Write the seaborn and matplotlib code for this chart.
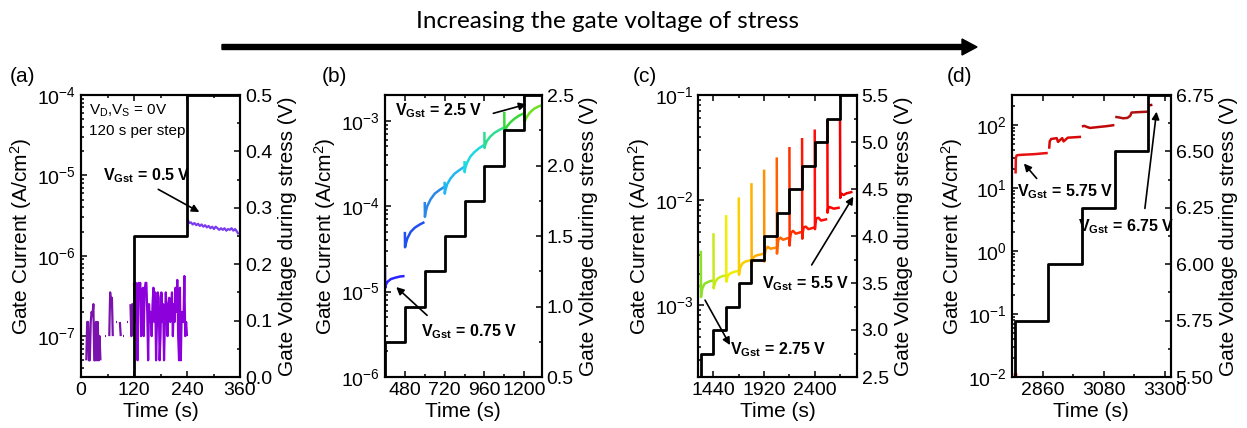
import numpy as np
import pandas as pd
import matplotlib
matplotlib.use("Agg")
import matplotlib.pyplot as plt
import seaborn as sns
from matplotlib.ticker import MultipleLocator, LogLocator, FormatStrFormatter, NullFormatter

sns.set_theme(style="ticks")
plt.rcParams["font.family"] = ["Liberation Sans", "DejaVu Sans"]
plt.rcParams["mathtext.fontset"] = "custom"
plt.rcParams["mathtext.rm"] = "Liberation Sans"
plt.rcParams["mathtext.it"] = "Liberation Sans:italic"
plt.rcParams["mathtext.bf"] = "Liberation Sans:bold"
plt.rcParams["mathtext.default"] = "regular"
for k in ["text.color", "axes.labelcolor", "xtick.color", "ytick.color", "axes.edgecolor"]:
    plt.rcParams[k] = "black"

# ---------------- data ----------------
# panel (a): gate current (A/cm^2)
a1_t = np.arange(12, 120, 2)
a1_I = np.array([0.5, 1.5, 1.5, 0.5, 0.5, 1.5, 2.0, 1.8, 2.5, 0.5, 0.5, 1.5, 0.5, 1.5, 0.5, 1.0, 0.5,
                 np.nan, np.nan, np.nan, np.nan,
                 1.0, 1.0,
                 np.nan, np.nan, np.nan,
                 1.0, 3.5, 2.5, 3.0, 1.0,
                 np.nan, np.nan, np.nan,
                 1.5, 1.5,
                 np.nan, np.nan,
                 1.5, 1.0,
                 np.nan, np.nan,
                 1.0, 1.0,
                 np.nan, np.nan,
                 1.5, 1.5,
                 np.nan, np.nan,
                 2.5, 1.0, 2.5, 1.0]) * 1e-7
a2_t = np.arange(120, 242, 2)
a2_I = np.array([4.6, 1.5, 4.6, 3.5, 0.5, 4.6, 3.0, 4.6, 1.0, 2.5, 4.0, 1.0, 3.5, 4.6, 4.6,
                 2.0, 0.5, 2.5, 1.5, 2.0, 1.0, 2.5, 4.0, 1.5, 3.5, 0.5, 1.5, 3.5, 3.0, 0.5,
                 1.0, 3.5, 1.5, 2.5, 0.5, 1.5, 3.5, 2.0, 1.0, 2.5, 3.0, 1.5, 2.0, 3.5, 1.0,
                 2.5, 1.5, 4.0, 2.0, 5.0, 1.0, 0.5, 4.0, 0.5, 2.0, 1.5, 1.5, 5.6, 1.0, 1.5,
                 1.0]) * 1e-7
a3_t = np.arange(241, 361, 4)
a3_I = np.array([2.85, 2.55, 2.6, 2.45, 2.55, 2.4, 2.5, 2.35, 2.45, 2.3, 2.4, 2.25, 2.35, 2.2,
                 2.3, 2.15, 2.3, 2.2, 2.1, 2.2, 2.1, 2.2, 2.05, 2.15, 2.1, 2.2, 2.05, 2.15,
                 2.0, 1.85]) * 1e-6
a_colors = ["#7a12ad", "#8c00dc", "#7a3cf0"]
a_step_t = [0, 120, 240, 360]
a_step_V = [0.0, 0.25, 0.5, 0.5]

# panel (b): one segment per 120-s stress step
b_offsets = [0, 1, 5, 15, 35, 60, 90, 118]
b_starts = [360, 480, 600, 720, 840, 960, 1080, 1200]
b_I = [
    [1.9e-5, 1.1e-5, 1.2e-5, 1.3e-5, 1.4e-5, 1.45e-5, 1.5e-5, 1.52e-5],
    [5.0e-5, 3.3e-5, 3.6e-5, 4.2e-5, 5.0e-5, 5.6e-5, 6.1e-5, 6.5e-5],
    [1.12e-4, 7.5e-5, 8.5e-5, 1.0e-4, 1.2e-4, 1.4e-4, 1.55e-4, 1.68e-4],
    [1.93e-4, 1.4e-4, 1.55e-4, 1.8e-4, 2.1e-4, 2.4e-4, 2.65e-4, 2.88e-4],
    [3.37e-4, 2.5e-4, 2.8e-4, 3.2e-4, 3.8e-4, 4.3e-4, 4.8e-4, 5.2e-4],
    [7.4e-4, 4.8e-4, 5.2e-4, 5.8e-4, 6.5e-4, 7.2e-4, 7.8e-4, 8.3e-4],
    [1.27e-3, 7.4e-4, 7.8e-4, 8.5e-4, 9.5e-4, 1.05e-3, 1.15e-3, 1.22e-3],
    [1.25e-3, 9.7e-4, 1.0e-3, 1.1e-3, 1.25e-3, 1.38e-3, 1.48e-3, 1.53e-3],
]
b_colors = ["#2a22ff", "#2050f0", "#2a88e8", "#20b8f0", "#20d8e0", "#30dc90", "#38d838", "#70e020"]
b_step_t = [340, 360, 480, 600, 720, 840, 960, 1080, 1200, 1320]
b_step_V = [0.5, 0.75, 1.0, 1.25, 1.5, 1.75, 2.0, 2.25, 2.5, 2.5]

# panel (c)
c_offsets = [0, 2, 6, 15, 35, 60, 90, 118]
c_starts = [1320, 1440, 1560, 1680, 1800, 1920, 2040, 2160, 2280, 2400, 2520, 2640]
c_I = [
    [3.3e-3, 1.2e-3, 1.3e-3, 1.45e-3, 1.6e-3, 1.65e-3, 1.7e-3, 1.72e-3],
    [4.85e-3, 1.45e-3, 1.52e-3, 1.65e-3, 1.78e-3, 1.85e-3, 1.9e-3, 1.92e-3],
    [7.2e-3, 1.68e-3, 1.75e-3, 1.9e-3, 2.0e-3, 2.05e-3, 2.1e-3, 2.12e-3],
    [1.06e-2, 1.95e-3, 2.1e-3, 2.3e-3, 2.5e-3, 2.6e-3, 2.65e-3, 2.7e-3],
    [1.45e-2, 2.4e-3, 2.6e-3, 2.8e-3, 2.95e-3, 3.0e-3, 3.05e-3, 3.1e-3],
    [1.95e-2, 2.6e-3, 3.0e-3, 3.4e-3, 3.6e-3, 3.45e-3, 3.5e-3, 3.55e-3],
    [2.55e-2, 3.1e-3, 3.6e-3, 4.2e-3, 4.4e-3, 4.2e-3, 4.3e-3, 4.4e-3],
    [3.2e-2, 3.7e-3, 4.3e-3, 4.9e-3, 5.1e-3, 4.8e-3, 4.9e-3, 5.0e-3],
    [3.9e-2, 4.3e-3, 4.9e-3, 5.5e-3, 5.6e-3, 5.3e-3, 5.4e-3, 5.5e-3],
    [4.7e-2, 5.3e-3, 6.0e-3, 6.7e-3, 6.8e-3, 6.4e-3, 6.5e-3, 6.6e-3],
    [5.8e-2, 7.6e-3, 8.2e-3, 8.6e-3, 8.5e-3, 8.3e-3, 8.4e-3, 8.5e-3],
    [6.0e-2, 1.05e-2, 1.1e-2, 1.15e-2, 1.12e-2, 1.16e-2, 1.18e-2, 1.2e-2],
]
c_pre_t = [1296, 1318]
c_pre_I = [1.55e-3, 1.5e-3]
c_colors = ["#8ee02a", "#c8ea18", "#eeee00", "#f8d000", "#ffb000", "#ff9000",
            "#ff6000", "#ff3000", "#ff1800", "#ff0c0c", "#ff0000", "#f20000"]
c_step_t = [1290, 1320, 1440, 1560, 1680, 1800, 1920, 2040, 2160, 2280, 2400, 2520, 2640, 2800]
c_step_V = [2.5, 2.75, 3.0, 3.25, 3.5, 3.75, 4.0, 4.25, 4.5, 4.75, 5.0, 5.25, 5.5, 5.5]

# panel (d)
d_t = [
    [2762, 2763, 2766, 2775, 2800, 2830, 2860, 2878],
    [2883, 2885, 2890, 2910, 2915, 2930, 2935, 2950, 2975, 2998],
    [3001, 3010, 3020, 3030, 3050, 3070, 3090, 3118],
    [3121, 3135, 3150, 3165, 3175, 3180, 3200, 3238],
    [3243, 3255],
]
d_I = [
    [17, 30, 33, 33.5, 34, 34.5, 35.5, 36],
    [42, 55, 60, 62, 54, 62, 55, 63, 64, 65],
    [95, 97, 93, 90, 92, 94, 96, 100],
    [135, 132, 128, 130, 140, 158, 160, 163],
    [205, 210],
]
d_colors = ["#e81010", "#d80808", "#c00808", "#b01010", "#a00000"]
d_dot_t = [2760]
d_dot_I = [0.011]
d_step_t = [2740, 2760, 2880, 3000, 3120, 3240, 3330]
d_step_V = [5.5, 5.75, 6.0, 6.25, 6.5, 6.75, 6.75]

# ---------------- helpers ----------------
def seg_frame(ts, vs, prefix):
    rows = []
    for i, (t, v) in enumerate(zip(ts, vs)):
        piece = 0
        for ti, vi in zip(t, v):
            if np.isnan(vi):
                piece += 1
                continue
            rows.append((ti, vi, f"{prefix}{i}", f"{prefix}{i}_{piece}"))
    return pd.DataFrame(rows, columns=["t", "I", "seg", "piece"])


def draw_current(ax, ts, vs, colors, prefix, lw=1.8):
    df = seg_frame(ts, vs, prefix)
    pal = {f"{prefix}{i}": c for i, c in enumerate(colors)}
    sns.lineplot(data=df, x="t", y="I", hue="seg", units="piece", palette=pal,
                 estimator=None, sort=False, legend=False, ax=ax, lw=lw,
                 solid_capstyle="butt")


def draw_steps(ax, t, v):
    df = pd.DataFrame({"t": t, "V": v})
    sns.lineplot(data=df, x="t", y="V", color="black", lw=2.0, drawstyle="steps-post",
                 estimator=None, sort=False, ax=ax)


def style(ax1, ax2, xlim, xmaj, xmin, ylim, vlim, vmaj, vmin, vfmt):
    ax1.set_xlim(*xlim)
    ax1.set_ylim(*ylim)
    ax2.set_ylim(*vlim)
    ax1.xaxis.set_major_locator(MultipleLocator(xmaj))
    ax1.xaxis.set_minor_locator(MultipleLocator(xmin))
    ax1.yaxis.set_major_locator(LogLocator(base=10, numticks=20))
    ax1.yaxis.set_minor_locator(LogLocator(base=10, subs=np.arange(2, 10), numticks=20))
    ax1.yaxis.set_minor_formatter(NullFormatter())
    ax2.yaxis.set_major_locator(MultipleLocator(vmaj))
    ax2.yaxis.set_minor_locator(MultipleLocator(vmin))
    ax2.yaxis.set_major_formatter(FormatStrFormatter(vfmt))
    ax1.tick_params(axis="both", which="both", direction="in", top=True, right=False,
                    labelsize=14, width=1.1, colors="black")
    ax1.tick_params(which="major", length=4.5)
    ax1.tick_params(which="minor", length=2.5)
    ax2.tick_params(axis="y", which="both", direction="in", labelsize=14, width=1.1,
                    colors="black")
    ax2.tick_params(which="major", length=4.5)
    ax2.tick_params(which="minor", length=2.5)
    for a in (ax1, ax2):
        for s in a.spines.values():
            s.set_linewidth(1.5)
            s.set_color("black")
            s.set_visible(True)
    ax1.set_xlabel("Time (s)", fontsize=15, labelpad=2, color="black")
    ax1.set_ylabel(r"Gate Current (A/cm$^2$)", fontsize=15, labelpad=2, color="black")
    ax2.set_ylabel("Gate Voltage during stress (V)", fontsize=15, labelpad=4, color="black")


def label(ax2, ax1, x, y, text, size=11.5):
    ax2.text(x, y, text, transform=ax1.transData, ha="center", va="center",
             fontsize=size, fontweight="bold", color="black")


def arrow(ax2, ax1, tail, tip):
    ax2.annotate("", xy=tip, xycoords=ax1.transData, xytext=tail, textcoords=ax1.transData,
                 arrowprops=dict(arrowstyle="-|>", color="black", lw=1.2,
                                 mutation_scale=11, shrinkA=0, shrinkB=0))


# ---------------- figure ----------------
W, H = 1247, 428
fig = plt.figure(figsize=(W / 100, H / 100), dpi=100)
top_px, bot_px = 95, 377
edges = [(81, 240), (385, 541.7), (698.3, 856.7), (1011.7, 1170.7)]
axes = []
for l, r in edges:
    a1 = fig.add_axes([l / W, 1 - bot_px / H, (r - l) / W, (bot_px - top_px) / H])
    a1.set_yscale("log")
    a2 = a1.twinx()
    axes.append((a1, a2))

# (a)
ax1, ax2 = axes[0]
draw_current(ax1, [a1_t, a2_t, a3_t], [a1_I, a2_I, a3_I], a_colors, "a", lw=1.6)
draw_steps(ax2, a_step_t, a_step_V)
style(ax1, ax2, (0, 360), 120, 60, (3.1e-8, 1e-4), (0, 0.5), 0.1, 0.05, "%.1f")
ax2.text(19, 6.4e-5, r"V$_\mathrm{D}$,V$_\mathrm{S}$ = 0V", transform=ax1.transData,
         ha="left", va="center", fontsize=11, color="black")
ax2.text(19, 3.6e-5, "120 s per step", transform=ax1.transData,
         ha="left", va="center", fontsize=11, color="black")
label(ax2, ax1, 149, 9.9e-6, r"$\mathbf{V_{Gst}}$ = 0.5 V")
arrow(ax2, ax1, (175, 6.7e-6), (268, 3.5e-6))

# (b)
ax1, ax2 = axes[1]
draw_current(ax1, [[s + o for o in b_offsets] for s in b_starts], b_I, b_colors, "b", lw=1.8)
draw_steps(ax2, b_step_t, b_step_V)
style(ax1, ax2, (360, 1306), 240, 120, (1e-6, 2e-3), (0.5, 2.5), 0.5, 0.25, "%.1f")
label(ax2, ax1, 684, 1.3e-3, r"$\mathbf{V_{Gst}}$ = 2.5 V")
arrow(ax2, ax1, (1014, 1.22e-3), (1214, 1.56e-3))
label(ax2, ax1, 868, 3.36e-6, r"$\mathbf{V_{Gst}}$ = 0.75 V")
arrow(ax2, ax1, (614, 5.27e-6), (428, 1.13e-5))

# (c)
ax1, ax2 = axes[2]
draw_current(ax1, [c_pre_t] + [[s + o for o in c_offsets] for s in c_starts],
             [c_pre_I] + c_I, [c_colors[0]] + c_colors, "c", lw=1.8)
draw_steps(ax2, c_step_t, c_step_V)
style(ax1, ax2, (1296, 2798), 480, 240, (2.08e-4, 1e-1), (2.5, 5.5), 0.5, 0.25, "%.1f")
label(ax2, ax1, 2052, 3.75e-4, r"$\mathbf{V_{Gst}}$ = 2.75 V")
arrow(ax2, ax1, (1360, 1.12e-3), (1597, 4.18e-4))
label(ax2, ax1, 2315, 1.62e-3, r"$\mathbf{V_{Gst}}$ = 5.5 V")
arrow(ax2, ax1, (2371, 2.42e-3), (2766, 1.08e-2))

# (d)
ax1, ax2 = axes[3]
draw_current(ax1, d_t, d_I, d_colors, "d", lw=1.8)
sns.scatterplot(x=d_dot_t, y=d_dot_I, color="#ff2020", s=8, linewidth=0, ax=ax1, legend=False)
draw_steps(ax2, d_step_t, d_step_V)
style(ax1, ax2, (2748, 3321), 220, 110, (1e-2, 300), (5.5, 6.75), 0.25, 0.125, "%.2f")
label(ax2, ax1, 2942, 8.7, r"$\mathbf{V_{Gst}}$ = 5.75 V")
arrow(ax2, ax1, (2838, 14.2), (2792, 24.5))
label(ax2, ax1, 3162, 2.42, r"$\mathbf{V_{Gst}}$ = 6.75 V")
arrow(ax2, ax1, (3228, 4.75), (3270, 163))

# panel letters
for x, s in zip([10, 322, 633, 947], ["(a)", "(b)", "(c)", "(d)"]):
    fig.text(x / W, 1 - 77 / H, s, fontsize=15, ha="left", va="center", color="black")

# header arrow and title
fig.text(607 / W, 1 - 22 / H, "Increasing the gate voltage of stress",
         fontsize=17.5, ha="center", va="center", family=["Lato", "DejaVu Sans"], color="black")
fig.patches.append(matplotlib.patches.FancyArrow(
    222 / W, 1 - 47 / H, 755 / W, 0, width=5 / H, head_width=16 / H, head_length=15 / W,
    length_includes_head=True, color="black", transform=fig.transFigure, figure=fig))

fig.savefig("out.png", dpi=100)
